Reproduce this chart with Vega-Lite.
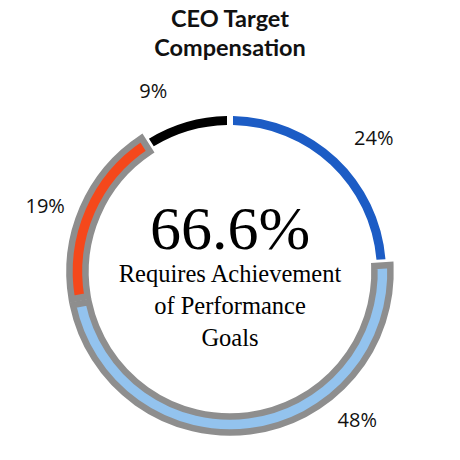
{
  "$schema": "https://vega.github.io/schema/vega-lite/v6.json",
  "width": 460,
  "height": 376,
  "autosize": "none",
  "padding": {"top": 84, "left": 0, "right": 0, "bottom": 0},
  "background": "white",
  "title": {
    "text": ["CEO Target", "Compensation"],
    "font": "Lato",
    "fontWeight": "bold",
    "fontSize": 23.5,
    "lineHeight": 29,
    "color": "#111111",
    "anchor": "middle",
    "offset": 21
  },
  "datasets": {
    "segments": [
      {"segment": "24%", "value": 24, "order": 1, "performance": false, "labelAt": 13.1},
      {"segment": "48%", "value": 48, "order": 2, "performance": true, "labelAt": 38.75},
      {"segment": "19%", "value": 19, "order": 3, "performance": true, "labelAt": 80.4},
      {"segment": "9%", "value": 9, "order": 4, "performance": false, "labelAt": 93.6}
    ],
    "center": [
      {"headline": "66.6%", "note": "Requires Achievement\nof Performance\nGoals"}
    ]
  },
  "layer": [
    {
      "data": {"name": "segments"},
      "transform": [
        {"stack": "value", "groupby": [], "sort": [{"field": "order", "order": "ascending"}], "as": ["start", "end"]},
        {"filter": "datum.performance"}
      ],
      "mark": {"type": "arc", "innerRadius": 144.5, "outerRadius": 160.5, "padAngle": 0.028, "stroke": "#8e8e8e", "strokeWidth": 6.5},
      "encoding": {
        "theta": {"field": "start", "type": "quantitative", "scale": {"domain": [0, 100]}, "stack": null},
        "theta2": {"field": "end"},
        "color": {"field": "segment", "type": "nominal", "legend": null,
          "scale": {"domain": ["24%", "48%", "19%", "9%"], "range": ["#1c5cc5", "#93c3ee", "#f5481b", "#000000"]}}
      }
    },
    {
      "data": {"name": "segments"},
      "transform": [
        {"stack": "value", "groupby": [], "sort": [{"field": "order", "order": "ascending"}], "as": ["start", "end"]},
        {"filter": "!datum.performance"}
      ],
      "mark": {"type": "arc", "innerRadius": 147, "outerRadius": 156, "padAngle": 0.028},
      "encoding": {
        "theta": {"field": "start", "type": "quantitative", "scale": {"domain": [0, 100]}, "stack": null},
        "theta2": {"field": "end"},
        "color": {"field": "segment", "type": "nominal", "legend": null}
      }
    },
    {
      "data": {"name": "segments"},
      "mark": {"type": "text", "radius": 196, "font": "Open Sans", "fontSize": 20, "color": "#111111", "align": "center", "baseline": "middle"},
      "encoding": {
        "theta": {"field": "labelAt", "type": "quantitative", "scale": {"domain": [0, 100]}, "stack": null},
        "text": {"field": "segment"}
      }
    },
    {
      "data": {"name": "center"},
      "mark": {"type": "text", "font": "Liberation Serif", "fontSize": 62, "color": "#000000", "align": "center", "baseline": "alphabetic", "dy": -23},
      "encoding": {"text": {"field": "headline"}}
    },
    {
      "data": {"name": "center"},
      "mark": {"type": "text", "font": "Liberation Serif", "fontSize": 24.5, "lineHeight": 32, "lineBreak": "\n", "color": "#000000", "align": "center", "baseline": "alphabetic", "dy": 10},
      "encoding": {"text": {"field": "note"}}
    }
  ],
  "config": {"view": {"stroke": null}}
}
